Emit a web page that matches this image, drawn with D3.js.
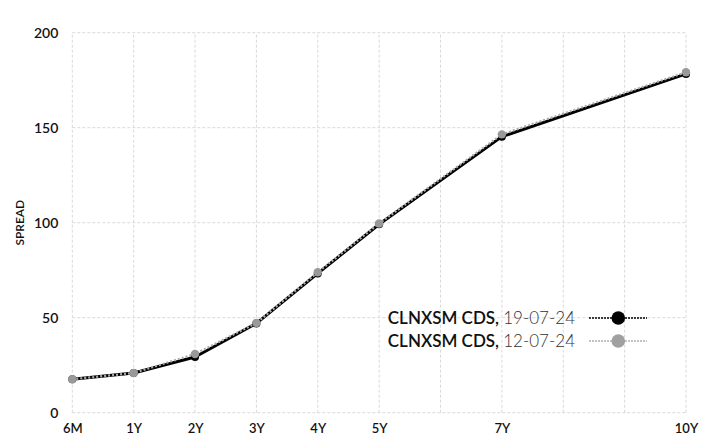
<!DOCTYPE html>
<html>
<head>
<meta charset="utf-8">
<script src="https://cdn.jsdelivr.net/npm/d3@7"></script>
<style>
  html, body { margin: 0; padding: 0; background: #fff; }
  svg { display: block; }
  text { font-family: "Lato", "DejaVu Sans", sans-serif; }
</style>
</head>
<body>
<svg id="chart" width="701" height="436"></svg>
<script>
// ---- data ----
const tenors = ["6M", "1Y", "2Y", "3Y", "4Y", "5Y", "7Y", "10Y"];
const tenorPos = [0, 1, 2, 3, 4, 5, 7, 10];
const series1Name = "CLNXSM CDS,";
const series1Date = "19-07-24";
const series1 = [17.6, 20.9, 29.3, 47.0, 73.3, 99.2, 145.3, 178.3];
const series2Name = "CLNXSM CDS,";
const series2Date = "12-07-24";
const series2 = [17.6, 20.9, 30.9, 47.2, 73.9, 99.6, 146.5, 179.2];
const yTicks = [0, 50, 100, 150, 200];
const xGrid = [0, 1, 2, 3, 4, 5, 6, 7, 8, 9, 10];
const yLabel = "SPREAD";

// ---- chart ----
const svg = d3.select("#chart");
const x = d3.scaleLinear().domain([0, 10]).range([72.3, 686]);
const y = d3.scaleLinear().domain([0, 200]).range([412.7, 32.7]);

const grid = svg.append("g");
grid.selectAll("line.v").data(xGrid).enter().append("line")
  .attr("x1", d => x(d)).attr("x2", d => x(d))
  .attr("y1", y(0)).attr("y2", y(200))
  .attr("stroke", "#d9d9d9").attr("stroke-width", 1)
  .attr("stroke-dasharray", "3,2");
grid.selectAll("line.h").data(yTicks).enter().append("line")
  .attr("x1", x(0)).attr("x2", x(10))
  .attr("y1", d => y(d)).attr("y2", d => y(d))
  .attr("stroke", "#d9d9d9").attr("stroke-width", 1)
  .attr("stroke-dasharray", "3,2");

// y axis labels
const yAxis = d3.axisLeft(y).tickValues(yTicks).tickSize(0).tickPadding(14);
const gy = svg.append("g").attr("transform", `translate(${x(0)},0)`).call(yAxis);
gy.select(".domain").remove();
gy.selectAll("text").attr("font-size", 14).attr("font-weight", 600).attr("fill", "#111")
  .style("font-family", '"Lato", sans-serif');

// x axis labels
const xAxis = d3.axisBottom(x).tickValues(tenorPos).tickFormat((d, i) => tenors[i]).tickSize(0).tickPadding(11);
const gx = svg.append("g").attr("transform", `translate(0,${y(0)})`).call(xAxis);
gx.select(".domain").remove();
gx.selectAll("text").attr("font-size", 13).attr("font-weight", 600).attr("fill", "#111")
  .style("font-family", '"Lato", sans-serif');

// y label
svg.append("text")
  .attr("transform", `translate(24,${y(100)}) rotate(-90)`)
  .attr("text-anchor", "middle")
  .attr("font-size", 12).attr("font-weight", 600).attr("fill", "#111")
  .text(yLabel);

const line = d3.line().x((d, i) => x(tenorPos[i])).y(d => y(d));

// series 1 (black, solid)
svg.append("path").datum(series1).attr("d", line)
  .attr("fill", "none").attr("stroke", "#000").attr("stroke-width", 3)
  .attr("stroke-linejoin", "round");
svg.selectAll("circle.s1").data(series1).enter().append("circle")
  .attr("cx", (d, i) => x(tenorPos[i])).attr("cy", d => y(d)).attr("r", 4)
  .attr("fill", "#000");

// series 2 (gray, dotted)
svg.append("path").datum(series2).attr("d", line)
  .attr("fill", "none").attr("stroke", "#aaa").attr("stroke-width", 2.2)
  .attr("stroke-dasharray", "2,2");
svg.selectAll("circle.s2").data(series2).enter().append("circle")
  .attr("cx", (d, i) => x(tenorPos[i])).attr("cy", d => y(d)).attr("r", 4.2)
  .attr("fill", "#999");

// legend
const legend = [
  { name: series1Name, date: series1Date, color: "#000", lineColor: "#000", y: 318 },
  { name: series2Name, date: series2Date, color: "#a0a0a0", lineColor: "#b0b0b0", y: 341 }
];
const lg = svg.append("g");
legend.forEach(l => {
  const t = lg.append("text").attr("x", 575).attr("y", l.y + 6)
    .attr("text-anchor", "end").attr("font-size", 17).attr("fill", "#111");
  t.append("tspan").attr("font-weight", 600).text(l.name + " ");
  t.append("tspan").attr("font-weight", 300).attr("fill", "#333").text(" " + l.date);
  lg.append("line").attr("x1", 589).attr("x2", 647).attr("y1", l.y).attr("y2", l.y)
    .attr("stroke", l.lineColor).attr("stroke-width", 1.6).attr("stroke-dasharray", "2,1");
  lg.append("circle").attr("cx", 618.3).attr("cy", l.y).attr("r", 6.8).attr("fill", l.color);
});
</script>
</body>
</html>
